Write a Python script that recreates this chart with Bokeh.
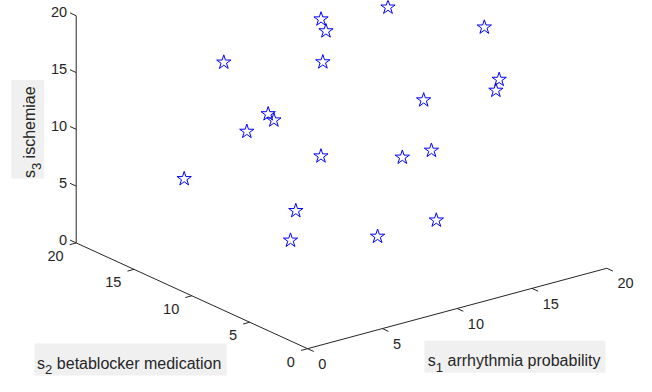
import numpy as np
from bokeh.plotting import figure
from bokeh.models import Range1d
from bokeh.core.properties import value
from bokeh.embed import file_html
from bokeh.resources import INLINE

# ---- data (3-D points) ----
s1 = [16.2, 12.5, 13.6, 18.0, 6.0, 10.3, 12.4, 15.9, 18.0, 5.1,
      7.8, 2.9, 9.4, 10.2, 10.6, 4.9, 5.4, 11.7, 3.5, 7.0]
s2 = [14, 15, 16, 8, 15, 12, 6, 4, 7, 10,
      13, 9, 11, 5, 3, 17, 8, 4, 6, 3]
s3 = [17.8, 17.6, 15.7, 18.2, 16.1, 16.0, 14.7, 16.2, 13.1, 14.2,
      11.3, 13.9, 8.5, 10.9, 12.3, 5.3, 6.5, 5.3, 5.5, 6.0]

ticks = [0, 5, 10, 15, 20]
tick_labels = ["0", "5", "10", "15", "20"]
lim = (0, 20)
xlabel = ("s", "1", "arrhythmia probability")
ylabel = ("s", "2", "betablocker medication")
zlabel = ("s", "3", "ischemiae")

# ---- layout / projection ----
W, H = 636, 376
O = np.array([315.5, 362.3])
E1 = np.array([15.425, -4.165])
E2 = np.array([-11.925, -5.48])
E3 = np.array([0.0, -11.77])
SX, SY = 0.97, 0.965
FONT = "Liberation Sans"
TXT = "#262626"
F_TICK = 15.0 * SX
F_LAB = 16.5 * SX
F_SUB = 13.5 * SX


def to_plot(X, Y):
    X = np.asarray(X, dtype=float)
    Y = np.asarray(Y, dtype=float)
    fx = 1 + X * SX
    fy = (Y - 1.5) * SY
    return fx, H - fy


def proj_ref(a, b, c):
    a, b, c = (np.asarray(v, dtype=float) for v in (a, b, c))
    X = O[0] + E1[0] * a + E2[0] * b + E3[0] * c
    Y = O[1] + E1[1] * a + E2[1] * b + E3[1] * c
    return X, Y


p = figure(width=W, height=H, x_range=Range1d(0, W), y_range=Range1d(0, H),
           x_axis_type=None, y_axis_type=None, output_backend="svg",
           toolbar_location=None, min_border=0)
p.grid.visible = False
p.outline_line_color = None
p.background_fill_color = "white"
p.border_fill_color = "white"

AX = "#262626"
# axis lines
z0 = [0, 0]
for a, b, c in [(list(lim), z0, z0), (z0, list(lim), z0), (z0, [lim[1]] * 2, list(lim))]:
    X, Y = proj_ref(a, b, c)
    px, py = to_plot(X, Y)
    p.line(px, py, line_color=AX, line_width=1)

TL = 7.0
d1 = -E2 / np.linalg.norm(E2) * TL   # ticks on s1 axis
d2 = -E1 / np.linalg.norm(E1) * TL   # ticks on s2 axis
d3 = E2 / np.linalg.norm(E2) * TL    # ticks on s3 axis

t = np.array(ticks, dtype=float)
zero = np.zeros_like(t)
full = np.full_like(t, lim[1])


def draw_ticks(X, Y, d):
    xs, ys = [], []
    for x, y in zip(X, Y):
        ax, ay = to_plot([x, x + d[0]], [y, y + d[1]])
        xs.append(list(ax))
        ys.append(list(ay))
    p.multi_line(xs, ys, line_color=AX, line_width=1)


def tick_text(X, Y, align):
    px, py = to_plot(X, Y)
    p.text(px, py, text=tick_labels, text_font=value(FONT),
           text_font_size=value(f"{F_TICK:.2f}px"), text_color=TXT,
           text_align=align, text_baseline="middle")


# s1 axis
X1, Y1 = proj_ref(t, zero, zero)
draw_ticks(X1, Y1, d1)
tick_text(X1 + 11, Y1 + 15.7, "left")
# s2 axis
X2, Y2 = proj_ref(zero, t, zero)
draw_ticks(X2, Y2, d2)
tick_text(X2 - 13, Y2 + 13.5, "right")
# s3 axis
X3, Y3 = proj_ref(zero, full, t)
draw_ticks(X3, Y3, d3)
tick_text(X3 + d3[0] - 3, Y3 + d3[1] - 0.5, "right")

# points
sx, sy = to_plot(*proj_ref(s1, s2, s3))
p.scatter(sx, sy, marker="star", size=15, fill_color=None,
          line_color="#0000FF", line_width=1)

# axis labels with subscripts
BOX = "#F0F0F0"


def box(x0, x1, y0, y1):
    bx, by = to_plot([x0, x1], [y0, y1])
    p.quad(left=bx[0], right=bx[1], top=by[0], bottom=by[1],
           fill_color=BOX, line_color=None)


def put(txt, x, y, fs, angle=0.0):
    px, py = to_plot([x], [y])
    p.text(px, py, text=[txt], text_font=value(FONT),
           text_font_size=value(f"{fs:.2f}px"), text_color=TXT, angle=angle,
           text_align="left", text_baseline="alphabetic")


def label_h(parts, x0, base):
    s, sub, main = parts
    xs_ = x0 + 0.5 * 16.5
    xm = xs_ + 0.556 * 13.5 + 0.278 * 16.5
    put(s, x0, base, F_LAB)
    put(sub, xs_, base + 6.5, F_SUB)
    put(main, xm, base, F_LAB)


def label_v(parts, base_x, y0):
    s, sub, main = parts
    ys_ = y0 - 0.5 * 16.5
    ym = ys_ - 0.556 * 13.5 - 0.278 * 16.5
    put(s, base_x, y0, F_LAB, np.pi / 2)
    put(sub, base_x + 6.5, ys_, F_SUB, np.pi / 2)
    put(main, base_x, ym, F_LAB, np.pi / 2)


box(34, 232, 357, 390)
label_h(ylabel, 36.7, 377.5)
box(436, 622.7, 354, 387.3)
label_h(xlabel, 439.5, 375.0)
box(10, 44, 84, 186)
label_v(zlabel, 29.3, 185.5)

open("out.html", "w").write(file_html(p, INLINE))
